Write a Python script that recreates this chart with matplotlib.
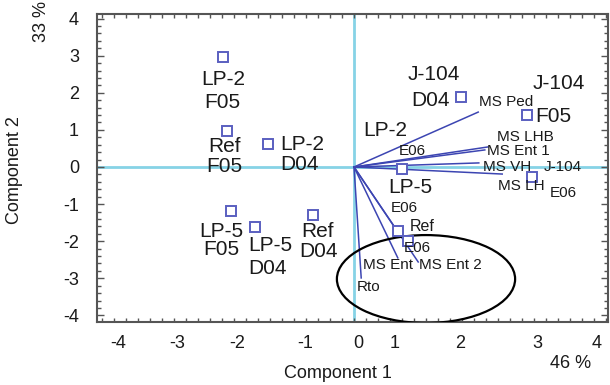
import matplotlib
matplotlib.use("Agg")
import matplotlib.pyplot as plt
from matplotlib.patches import Ellipse
from matplotlib.ticker import MultipleLocator

plt.rcParams['font.family'] = ['Liberation Sans', 'DejaVu Sans']

# ---- data ----
sample_names = ["LP-2 F05", "Ref F05", "LP-2 D04", "LP-5 F05", "LP-5 D04", "Ref D04",
                "J-104 D04", "J-104 F05", "J-104 E06", "LP-2 E06", "LP-5 E06", "Ref E06", "Ref E06 b"]
comp1 = [-2.18, -2.12, -1.43, -2.05, -1.65, -0.68, 1.78, 2.88, 2.97, 0.98, 0.80, 0.73, 0.90]
comp2 = [2.97, 0.97, 0.62, -1.19, -1.62, -1.29, 1.89, 1.40, -0.27, 0.73, -0.05, -1.73, -2.00]
marker_visible = [True, True, True, True, True, True, True, True, True, False, True, True, True]

var_names = ["MS Ped", "MS LHB", "MS Ent 1", "MS VH", "MS LH", "", "MS Ent", "MS Ent 2", "Rto"]
load1 = [2.07, 2.23, 2.18, 2.08, 2.47, 0.73, 0.73, 1.07, 0.12]
load2 = [1.48, 0.54, 0.46, 0.11, -0.19, -1.75, -2.45, -2.56, -2.99]

xtick_labels = ["-4", "-3", "-2", "-1", "0", "1", "2", "3", "4"]
ytick_labels = ["-4", "-3", "-2", "-1", "0", "1", "2", "3", "4"]
var_pct = ["46 %", "33 %"]

# ---- style ----
BIG, SMALL = 15, 11
# per sample: list of (text, dx_px, dy_px_down, size)
sample_label_style = {
    0: [("LP-2", 0, 23, BIG), ("F05", -1, 46, BIG)],
    1: [("Ref", -2, 15, BIG), ("F05", -2, 35, BIG)],
    2: [("LP-2", 34, 1, BIG), ("D04", 31, 21, BIG)],
    3: [("LP-5", -10, 20, BIG), ("F05", -10, 38, BIG)],
    4: [("LP-5", 15, 18, BIG), ("D04", 13, 41, BIG)],
    5: [("Ref", 4, 17, BIG), ("D04", 5, 37, BIG)],
    6: [("J-104", -27, -22, BIG), ("D04", -30, 4, BIG)],
    7: [("J-104", 32, -32, BIG), ("F05", 26, 1, BIG)],
    8: [("J-104", 31, -10, SMALL), ("E06", 31, 16, SMALL)],
    9: [("LP-2", -28, -9, BIG), ("E06", 0, 11, SMALL)],
    10: [("LP-5", 8, 19, BIG), ("E06", 2, 39, SMALL)],
    11: [("Ref", 24, -5, 11.5), ("E06", 20, 17, SMALL)],
    12: [],
}
var_label_offsets = [(1, -10), (9, -10), (2, 1), (4, 4), (-4, 12), (0, 0), (-35, 7), (1, 3), (-4, 9)]
xtick_pos = [-3.93, -2.95, -1.95, -0.82, 0.07, 0.68, 1.77, 3.05, 4.05]

W, H = 610, 385
fig = plt.figure(figsize=(W / 100, H / 100), dpi=100)
ax = fig.add_axes([97 / W, 1 - 322 / H, (608 - 97) / W, (322 - 14) / H])
ax.set_xlim(-4.283, 4.233)
ax.set_ylim(-4.178, 4.124)

axis_col = '#86d3e6'
ax.axhline(0, color=axis_col, lw=2, zorder=1)
ax.axvline(0, color=axis_col, lw=2, zorder=1)

vec_col = '#3c45b2'
for name, a, b, (dx, dy) in zip(var_names, load1, load2, var_label_offsets):
    ax.plot([0, a], [0, b], color=vec_col, lw=1.1, zorder=2)
    if name:
        ax.annotate(name, xy=(a, b), xytext=(dx, -dy), textcoords='offset pixels',
                    ha='left', va='center', fontsize=SMALL, color='#1a1a1a', zorder=5)

for i, (x, y) in enumerate(zip(comp1, comp2)):
    if marker_visible[i]:
        ax.plot(x, y, marker='s', ms=6.5, mfc='white', mec='#5a5fc0', mew=1.4,
                ls='none', zorder=4)
    for txt, dx, dy, fs in sample_label_style[i]:
        ax.annotate(txt, xy=(x, y), xytext=(dx, -dy), textcoords='offset pixels',
                    ha='center', va='center', fontsize=fs, color='#1a1a1a', zorder=5)

ell = Ellipse((1.2, -3.02), 2.97, 2.37, fill=False, ec='black', lw=1.6, zorder=3)
ax.add_patch(ell)

# ticks
ax.set_xticks(xtick_pos)
ax.set_xticklabels(xtick_labels)
ax.xaxis.set_minor_locator(MultipleLocator(0.2))
ax.set_yticks(range(-4, 5))
ax.set_yticklabels(ytick_labels)
ax.yaxis.set_minor_locator(MultipleLocator(0.2))
ax.tick_params(axis='x', which='major', length=0, pad=9, labelsize=13, colors='#1a1a1a')
ax.tick_params(axis='x', which='minor', direction='in', length=3, width=1,
               top=True, bottom=True, color='#555555')
ax.tick_params(axis='y', which='major', direction='in', length=5, width=1, pad=13,
               labelsize=13, left=True, right=True, color='#555555', labelcolor='#1a1a1a')
ax.tick_params(axis='y', which='minor', direction='in', length=3, width=1,
               left=True, right=True, color='#555555')
for s in ax.spines.values():
    s.set_color('#555555')
    s.set_linewidth(1.5)

fig.text(338 / W, 1 - 374 / H, "Component 1", ha='center', va='center', fontsize=13, color='#1a1a1a')
fig.text(15 / W, 1 - 170 / H, "Component 2", ha='center', va='center', rotation=90,
         fontsize=13, color='#1a1a1a')
fig.text(571 / W, 1 - 363 / H, var_pct[0], ha='center', va='center', fontsize=13, color='#1a1a1a')
fig.text(41 / W, 1 - 22 / H, var_pct[1], ha='center', va='center', rotation=90,
         fontsize=13, color='#1a1a1a')

fig.savefig("out.png", dpi=100)
